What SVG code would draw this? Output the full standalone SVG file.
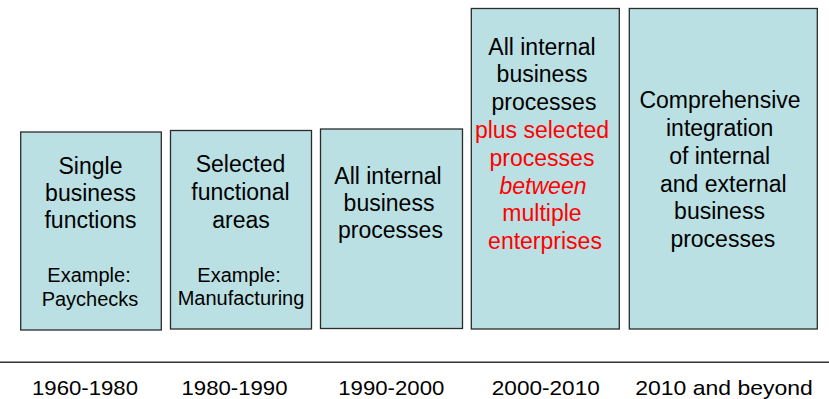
<svg xmlns="http://www.w3.org/2000/svg" width="829" height="399" viewBox="0 0 829 399">
<style>
.box{fill:#BBE0E3;stroke:#2b2b2b;stroke-width:1.3}
text{font-family:"Liberation Sans",Arial,sans-serif;text-anchor:middle;fill:#000}
.m{font-size:23px}
.s{font-size:20px}
.red{fill:#FF0000}
.yr{font-size:21px}
</style>
<rect width="829" height="399" fill="#fff"/>
<g id="connectors">
<line x1="0" y1="362.3" x2="829" y2="362.3" stroke="#333" stroke-width="1.4"/>
</g>
<g id="box1">
<rect class="box" x="20.7" y="132" width="140.6" height="198"/>
<text class="m" x="90.5" y="174">Single</text>
<text class="m" x="90.5" y="201">business</text>
<text class="m" x="90.5" y="228">functions</text>
<text class="s" x="89" y="281.5">Example:</text>
<text class="s" x="90" y="306">Paychecks</text>
</g>
<g id="box2">
<rect class="box" x="170.5" y="130.5" width="141" height="198.5"/>
<text class="m" x="240.5" y="172">Selected</text>
<text class="m" x="240.5" y="200">functional</text>
<text class="m" x="241" y="227.5">areas</text>
<text class="s" x="239" y="281.5">Example:</text>
<text class="s" x="241" y="305">Manufacturing</text>
</g>
<g id="box3">
<rect class="box" x="320.5" y="129" width="142" height="199.5"/>
<text class="m" x="388" y="183.5">All internal</text>
<text class="m" x="389" y="210.5">business</text>
<text class="m" x="390.5" y="238">processes</text>
</g>
<g id="box4">
<rect class="box" x="471.3" y="8.5" width="148" height="320.5"/>
<text class="m" x="542" y="54.5">All internal</text>
<text class="m" x="542" y="82">business</text>
<text class="m" x="544" y="110">processes</text>
<text class="m red" x="542" y="137.5">plus selected</text>
<text class="m red" x="542" y="165.5">processes</text>
<text class="m red" x="543" y="193.5" font-style="italic">between</text>
<text class="m red" x="542" y="221">multiple</text>
<text class="m red" x="545" y="249">enterprises</text>
</g>
<g id="box5">
<rect class="box" x="629.3" y="8.5" width="188" height="320.5"/>
<text class="m" x="720" y="108">Comprehensive</text>
<text class="m" x="719.7" y="136">integration</text>
<text class="m" x="719.7" y="163.5">of internal</text>
<text class="m" x="723.3" y="191.5">and external</text>
<text class="m" x="719.5" y="219">business</text>
<text class="m" x="722.8" y="247">processes</text>
</g>
<g id="years">
<text class="yr" x="85" y="394.5" textLength="106" lengthAdjust="spacingAndGlyphs">1960-1980</text>
<text class="yr" x="234.5" y="394.5" textLength="106" lengthAdjust="spacingAndGlyphs">1980-1990</text>
<text class="yr" x="391.3" y="394.5" textLength="106" lengthAdjust="spacingAndGlyphs">1990-2000</text>
<text class="yr" x="545.8" y="394.5" textLength="108" lengthAdjust="spacingAndGlyphs">2000-2010</text>
<text class="yr" x="724" y="394.5" textLength="177.5" lengthAdjust="spacingAndGlyphs">2010 and beyond</text>
</g>
</svg>
